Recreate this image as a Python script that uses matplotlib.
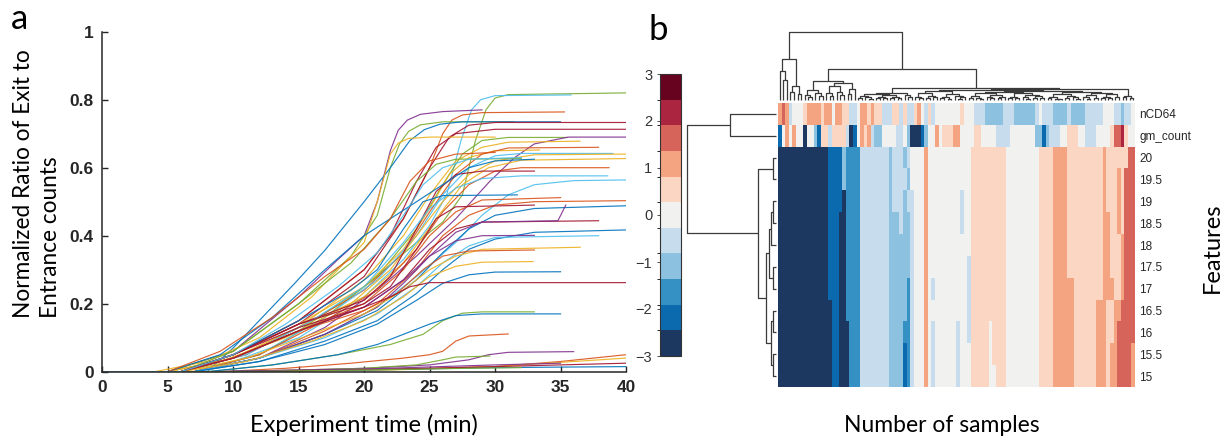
import numpy as np
import matplotlib
matplotlib.use("Agg")
import matplotlib.pyplot as plt
from matplotlib.colors import ListedColormap, BoundaryNorm
from matplotlib.cm import ScalarMappable
from matplotlib.collections import LineCollection
from matplotlib.ticker import FuncFormatter

# ---------------- panel a: exit/entrance ratio traces ----------------
# each trace is a list of (time [min], normalized ratio) knots
traces = [
    [(0, 0), (5, 0), (10, 0.04), (15, 0.12), (20, 0.25), (24, 0.38), (26, 0.44), (27.5, 0.52), (28.5, 0.68), (29.3, 0.77), (30, 0.805), (31, 0.815), (40, 0.82)],
    [(0, 0), (6, 0), (10, 0.03), (15, 0.1), (20, 0.22), (23, 0.33), (25, 0.43), (26.3, 0.52), (27.4, 0.68), (28.2, 0.77), (28.9, 0.8), (30, 0.812), (35.8, 0.814)],
    [(0, 0), (5, 0), (10, 0.06), (15, 0.22), (18, 0.33), (20, 0.4), (21, 0.5), (22, 0.65), (22.6, 0.71), (23.3, 0.74), (24.3, 0.757), (26, 0.765), (29, 0.77)],
    [(0, 0), (6, 0), (10, 0.05), (15, 0.15), (20, 0.3), (23, 0.45), (25, 0.6), (26, 0.7), (26.7, 0.74), (27.5, 0.755), (29, 0.762), (35.3, 0.764)],
    [(0, 0), (5, 0), (10, 0.06), (15, 0.2), (19, 0.34), (21, 0.46), (22, 0.6), (22.7, 0.67), (23.4, 0.707), (24.3, 0.726), (26, 0.735), (31.4, 0.735)],
    [(0, 0), (8, 0), (10, 0.07), (14.7, 0.26), (17, 0.357), (20, 0.5), (22, 0.6), (23.5, 0.68), (24.6, 0.712), (25.8, 0.728), (27.5, 0.735), (35, 0.735)],
    [(0, 0), (6, 0), (10, 0.05), (15, 0.14), (20, 0.28), (23, 0.45), (25, 0.6), (26.5, 0.69), (28, 0.725), (30, 0.733), (40, 0.733)],
    [(0, 0), (6, 0), (10, 0.05), (15, 0.15), (20, 0.3), (22, 0.4), (24, 0.56), (25.5, 0.66), (27, 0.7), (30, 0.713), (40, 0.713)],
    [(0, 0), (4, 0), (8, 0.03), (12, 0.1), (16, 0.22), (20, 0.38), (21, 0.5), (22, 0.64), (22.6, 0.672), (23.4, 0.686), (25, 0.69), (30, 0.69)],
    [(0, 0), (7, 0), (12, 0.05), (17, 0.16), (21, 0.28), (24, 0.42), (26, 0.55), (27.5, 0.64), (29, 0.68), (31, 0.689), (35.5, 0.689)],
    [(0, 0), (7, 0), (12, 0.04), (17, 0.13), (21, 0.24), (24, 0.34), (27, 0.45), (29.6, 0.56), (31.5, 0.63), (33, 0.67), (35.6, 0.69), (40, 0.69)],
    [(0, 0), (5, 0), (10, 0.04), (15, 0.13), (20, 0.27), (23, 0.4), (25, 0.52), (27, 0.62), (29, 0.66), (31, 0.675), (36.5, 0.678)],
    [(0, 0), (6, 0), (10, 0.05), (15, 0.14), (20, 0.25), (23, 0.36), (25, 0.48), (26.5, 0.58), (28, 0.63), (30, 0.65), (33.4, 0.652)],
    [(0, 0), (6, 0), (11, 0.05), (16, 0.15), (20, 0.24), (23, 0.35), (25, 0.47), (27, 0.58), (29, 0.64), (31, 0.658), (37.9, 0.66)],
    [(0, 0), (7, 0), (12, 0.05), (17, 0.16), (21, 0.27), (24, 0.4), (26, 0.52), (28, 0.6), (30, 0.635), (32, 0.642), (39, 0.642)],
    [(0, 0), (5, 0), (9, 0.03), (14, 0.1), (19, 0.2), (22, 0.3), (24, 0.4), (26, 0.5), (28, 0.58), (30, 0.62), (33, 0.638), (40, 0.64)],
    [(0, 0), (6, 0), (10, 0.04), (15, 0.13), (20, 0.22), (23, 0.32), (25.5, 0.45), (27.5, 0.55), (29.5, 0.6), (32, 0.622), (40, 0.627)],
    [(0, 0), (6, 0), (10, 0.06), (15, 0.2), (19, 0.32), (22, 0.45), (24, 0.56), (25.5, 0.61), (27, 0.625), (32, 0.627)],
    [(0, 0), (7, 0), (12, 0.05), (17, 0.15), (21, 0.24), (24, 0.36), (26, 0.47), (28, 0.55), (30, 0.59), (32, 0.6), (38.7, 0.6)],
    [(0, 0), (6, 0), (10, 0.05), (15, 0.14), (20, 0.21), (22, 0.28), (24, 0.42), (25.5, 0.53), (27, 0.58), (29, 0.59), (33, 0.59)],
    [(0, 0), (6, 0), (11, 0.05), (16, 0.15), (20, 0.25), (23, 0.38), (25, 0.48), (27, 0.54), (29, 0.568), (32, 0.576), (38.6, 0.576)],
    [(0, 0), (7, 0), (12, 0.04), (17, 0.11), (21, 0.19), (24, 0.28), (27, 0.38), (29, 0.46), (31, 0.52), (33, 0.55), (36, 0.562), (40, 0.564)],
    [(0, 0), (6, 0), (10, 0.05), (15, 0.15), (19, 0.24), (21, 0.3), (23, 0.42), (24.5, 0.5), (26, 0.518), (31.7, 0.52)],
    [(0, 0), (6, 0), (10, 0.04), (15, 0.12), (20, 0.2), (23, 0.3), (25, 0.4), (27, 0.47), (29, 0.505), (35, 0.512)],
    [(0, 0), (7, 0), (12, 0.04), (17, 0.12), (21, 0.2), (24, 0.3), (26, 0.4), (28, 0.46), (30, 0.49), (33, 0.5), (40, 0.503)],
    [(0, 0), (6, 0), (10, 0.05), (15, 0.14), (20, 0.2), (22, 0.25), (24, 0.36), (25.5, 0.45), (27, 0.485), (33, 0.49)],
    [(0, 0), (7, 0), (12, 0.04), (17, 0.11), (21, 0.18), (24, 0.27), (26, 0.35), (28, 0.42), (30, 0.46), (33, 0.48), (40, 0.488)],
    [(0, 0), (6, 0), (10, 0.05), (15, 0.13), (20, 0.19), (23, 0.27), (25, 0.36), (27, 0.42), (29, 0.44), (37.9, 0.444)],
    [(0, 0), (7, 0), (12, 0.04), (17, 0.11), (21, 0.19), (23, 0.26), (25, 0.34), (27, 0.41), (29, 0.44), (34.8, 0.444), (35.4, 0.49)],
    [(0, 0), (7, 0), (12, 0.03), (17, 0.09), (21, 0.15), (24, 0.23), (26, 0.3), (28, 0.36), (30, 0.39), (33, 0.41), (40, 0.417)],
    [(0, 0), (6, 0), (10, 0.04), (15, 0.12), (20, 0.19), (23, 0.27), (25, 0.34), (27, 0.385), (29, 0.4), (33, 0.401)],
    [(0, 0), (7, 0), (12, 0.04), (17, 0.1), (21, 0.17), (24, 0.25), (26, 0.32), (28, 0.37), (30, 0.395), (37.9, 0.4)],
    [(0, 0), (6, 0), (11, 0.04), (16, 0.11), (20, 0.17), (23, 0.24), (25, 0.3), (27, 0.34), (29, 0.36), (36.5, 0.366)],
    [(0, 0), (6, 0), (10, 0.04), (15, 0.12), (20, 0.18), (22.5, 0.23), (24.5, 0.3), (26, 0.34), (28, 0.355), (33, 0.358)],
    [(0, 0), (6, 0), (11, 0.03), (16, 0.09), (20, 0.15), (23, 0.22), (25, 0.28), (27, 0.31), (29, 0.322), (32.9, 0.324)],
    [(0, 0), (7, 0), (12, 0.03), (17, 0.08), (21, 0.14), (24, 0.21), (26, 0.26), (28, 0.285), (30, 0.293), (35, 0.294)],
    [(0, 0), (6, 0), (10, 0.04), (15, 0.12), (20, 0.19), (22, 0.22), (23.5, 0.25), (25, 0.262), (40, 0.262)],
    [(0, 0), (8, 0), (13, 0.02), (18, 0.05), (22, 0.08), (24.5, 0.11), (26, 0.15), (27.5, 0.172), (29, 0.176), (33, 0.176)],
    [(0, 0), (8, 0), (13, 0.02), (18, 0.05), (21, 0.08), (23, 0.11), (25, 0.14), (27, 0.165), (29, 0.17), (35, 0.17)],
    [(0, 0), (9, 0), (14, 0.01), (19, 0.025), (23, 0.04), (25, 0.05), (26, 0.06), (27, 0.09), (28, 0.105), (31, 0.111)],
    [(0, 0), (9, 0), (15, 0.005), (20, 0.01), (25, 0.02), (28, 0.035), (29.5, 0.05), (31, 0.057), (36, 0.059)],
    [(0, 0), (9, 0), (15, 0.005), (20, 0.01), (24, 0.02), (26, 0.035), (27, 0.043), (29.6, 0.046)],
    [(0, 0), (10, 0), (20, 0.005), (30, 0.015), (35, 0.03), (40, 0.05)],
    [(0, 0), (12, 0), (22, 0.005), (30, 0.015), (36, 0.03), (40, 0.04)],
    [(0, 0), (40, 0)],
    [(0, 0), (8, 0), (20, 0.005), (30, 0.012), (40, 0.015)],
    [(0, 0), (10, 0), (25, 0.01), (35, 0.02), (40, 0.025)],
    [(0, 0), (8, 0), (20, 0.008), (30, 0.02), (35, 0.025)],
    [(0, 0), (10, 0), (20, 0.005), (28, 0.01), (32, 0.012)],
    [(0, 0), (5, 0), (9, 0.05), (13, 0.16), (17, 0.3), (20, 0.4), (22, 0.45), (24, 0.5), (26, 0.55), (28, 0.6), (30, 0.62), (33, 0.625)],
    [(0, 0), (5, 0), (9, 0.06), (13, 0.16), (17, 0.28), (20, 0.36), (22, 0.45), (23.5, 0.56), (25, 0.62), (27, 0.64), (30, 0.645)],
    [(0, 0), (6, 0), (10, 0.05), (14, 0.14), (18, 0.25), (21, 0.35), (23, 0.46), (24.5, 0.55), (26, 0.6), (28, 0.625), (32, 0.63)],
]
trace_colors = "GCPOGBRRYGPYYOCYYGORCCBOORBRPBPCYOYBRGBOPGOYCBRPGBOC"

# MATLAB default line colour order
palette = {"B": "#0072BD", "O": "#D95319", "Y": "#EDB120", "P": "#7E2F8E",
           "G": "#77AC30", "C": "#4DBEEE", "R": "#A2142F"}

time_ticks = [0, 5, 10, 15, 20, 25, 30, 35, 40]
ratio_ticks = [0, 0.2, 0.4, 0.6, 0.8, 1]

# ---------------- panel b: clustered heatmap ----------------
row_labels = ["nCD64", "gm_count", "20", "19.5", "19", "18.5", "18", "17.5",
              "17", "16.5", "16", "15.5", "15"]

# colour level per sample (0 -> -3 ... 10 -> +3), run-length coded as "level*count"
heat_rows = [
    "7 8 7 4 5*3 6 7*4 6 7*2 5 7*2 6*2 4*2 5 7*2 6 7 6*2 4*3 6*2 4 6 4*2 6 7 5 4 6 4 5*7 6 5*3 4*3 3*5 4*3 3*6 4 5 4*3 3*4 4 3*4 4*5 5*3 4*2 3 4*2 5",
    "1 5 7 5 7 5*2 0 5*2 3 1 6*2 4 6*4 4 0 1 5 7 6 7 4 3*2 5*4 4*2 5 3 0*3 1 3 5*2 7 5 6*3 7*2 5*4 6*2 5*4 4*4 5*7 3*2 1 3 4*3 5*2 6*3 5*2 4*3 5*4 6 8*2 9 6 5*2",
    "0*14 1*4 3 2*4 4*8 3 4*3 3 4 5 5*3 7 5*12 6*10 5*9 6*4 7*4 6*10 7 6*6 8*2",
    "0*14 1*4 3 2*4 4*8 3 4*4 3 5 5*3 7 5*12 6*10 5*9 6*4 7*4 6*10 7 6*3 7 6 8*3",
    "0*14 1*4 0 2*4 4*8 3 4*3 3 4 4 5*3 7 5*9 4 5*2 6*10 5*9 6*4 7*4 6*10 7 6*3 7 6 8*3",
    "0*14 1*3 0*2 2*4 4*8 3*3 4 3*2 4 5*3 7 5*9 4 5*2 6*10 5*9 6*4 7*4 6*10 7*2 6*2 7 6 8*3",
    "0*14 1*3 0*2 2*4 4*8 3*6 4 5*3 7 5*12 6*10 5*9 6*4 7*4 6*10 7*2 6*3 7 8*3",
    "0*14 1*3 0*2 2*4 4*8 3*6 4 5*3 7 5*11 4 6*10 5*9 6*4 7*4 6*10 7*2 6*3 7 8*3",
    "0*14 1*3 0*2 2*4 4*8 3*5 2 4 5*3 7 5 4 5*9 4 6*10 5*9 6*4 7*6 6*8 7*3 6*2 7 8*3",
    "0*15 1*2 0*2 2*4 4*8 3*5 2 4 5*3 7 5*11 4 6*10 5*9 6*4 7*6 6*6 7*3 6*2 7*2 8*4",
    "0*15 1*2 0*3 2*3 4*8 3*4 2*2 4 5*3 7 5 4 5*6 4 5*2 4 6*5 5 6*4 5*9 6*4 7*6 6*6 7*3 6*2 7 8*5",
    "0*15 1*2 0*3 2*3 4*8 3*4 1 2 4 5*3 7 5 4 5*6 4 5*3 6*5 5 6*4 5*9 6*4 7*6 6*6 7*3 6 7*2 8*4 7",
    "0*15 1*2 0*3 2*3 4*8 3*4 1 2 4 5*3 7 5 4 5*6 4 5*3 6*5 5*2 6*3 5*9 6*4 7*6 6*6 7*3 6 7*2 8*4 7",
]

level_colors = ["#1c3760", "#0b69ad", "#3590c3", "#8cc1e0", "#c7dcec", "#f1f1f0",
                "#fbd6c3", "#f5a482", "#d6645a", "#ab2440", "#67021f"]
cbar_ticks = [-3, -2, -1, 0, 1, 2, 3]

# sample dendrogram: node = [height, left, right], leaf = 0
L = [0.60, [0.42, 0, [0.30, 0, 0]], [0.20, [0.12, 0, 0], [0.09, 0, 0]]]
R1a = [0.15, [0.08, 0, [0.05, 0, 0]], [0.10, 0, [0.06, 0, 0]]]
R1b = [0.25, [0.20, [0.10, 0, [0.06, 0, 0]], [0.12, 0, [0.07, 0, 0]]], [0.16, [0.09, 0, 0], 0]]
A1 = [0.095, [0.06, [0.035, 0, 0], [0.04, 0, [0.02, 0, 0]]],
      [0.07, [0.045, [0.03, 0, 0], [0.025, 0, 0]], [0.05, [0.03, 0, 0], [0.035, 0, 0]]]]
A2 = [0.08, 0, [0.05, 0, 0]]
B1a = [0.13, [0.10, [0.05, 0, [0.03, 0, 0]], [0.06, [0.035, 0, 0], [0.04, 0, 0]]],
       [0.09, [0.05, [0.03, 0, 0], [0.02, 0, 0]], [0.06, 0, [0.04, [0.02, 0, 0], 0]]]]
X1 = [0.10, [0.06, [0.03, 0, 0], [0.035, 0, [0.02, 0, 0]]], [0.07, [0.04, 0, [0.025, 0, 0]], [0.045, [0.03, 0, 0], 0]]]
X2 = [0.11, [0.05, [0.025, 0, 0], [0.03, 0, 0]], [0.08, [0.04, 0, [0.02, 0, 0]], [0.06, [0.035, 0, 0], [0.03, 0, 0]]]]
Y1 = [0.09, [0.05, [0.03, 0, 0], [0.02, 0, [0.01, 0, 0]]], [0.06, [0.035, 0, 0], [0.04, 0, [0.02, 0, 0]]]]
Y2 = [0.10, [0.07, [0.04, 0, [0.02, 0, 0]], [0.03, 0, 0]], [0.085, [0.05, [0.03, 0, 0], [0.025, 0, 0]], [0.045, 0, 0]]]
B2 = [0.06, [0.04, 0, 0], [0.03, 0, 0]]
sample_tree = [1.0, L, [0.46, [0.28, R1a, R1b],
                        [0.17, [0.11, A1, A2], [0.16, [0.145, B1a, [0.135, [0.12, X1, X2], [0.125, Y1, Y2]]], B2]]]]

# feature dendrogram (same leaf order as row_labels)
row_tree = [89, [46, 0, 0], [18, [3, 0, 0], [10, [7, [5, [3, 0, 0], 0], [3, 0, 0]], [5, [3, 0, 0], [3, 0, 0]]]]]


def decode(code):
    out = []
    for tok in code.split():
        lvl, _, n = tok.partition("*")
        out += [int(lvl)] * int(n or 1)
    return out


def dendro_segments(tree):
    segs = []
    count = [0]

    def walk(node):
        if node == 0:
            pos = count[0]
            count[0] += 1
            return pos, 0.0
        h, left, right = node
        xl, hl = walk(left)
        xr, hr = walk(right)
        segs.append([(xl, hl), (xl, h), (xr, h), (xr, hr)])
        return (xl + xr) / 2, h

    walk(tree)
    return segs, count[0]


ink = "#262626"
W, H = 1223, 438
fig = plt.figure(figsize=(W / 100, H / 100), dpi=100)


def rect(x0, y0, x1, y1):
    return [x0 / W, 1 - y1 / H, (x1 - x0) / W, (y1 - y0) / H]


# ---- panel a
ax = fig.add_axes(rect(102.3, 31.7, 626, 371.7))
for pts, c in zip(traces, trace_colors):
    t, v = zip(*pts)
    ax.plot(t, v, color=palette[c], lw=0.85, alpha=0.9, solid_joinstyle="round")
ax.set_xlim(0, 40)
ax.set_ylim(0, 1)
ax.set_xticks(time_ticks)
ax.set_yticks(ratio_ticks)
ax.yaxis.set_major_formatter(FuncFormatter(lambda v, _: "%g" % v))
for s in ["top", "right"]:
    ax.spines[s].set_visible(False)
for s in ["left", "bottom"]:
    ax.spines[s].set_color(ink)
    ax.spines[s].set_linewidth(1.1)
ax.tick_params(direction="in", length=4, width=1, color=ink, labelcolor=ink, pad=6)
for lab in ax.get_xticklabels() + ax.get_yticklabels():
    lab.set_fontfamily("Liberation Sans")
    lab.set_fontweight("bold")
    lab.set_fontsize(12.5)

label_font = dict(family="Lato", color="black")
fig.text(364 / W, 1 - 425 / H, "Experiment time (min)", ha="center", va="center", fontsize=17, **label_font)
fig.text(37 / W, 1 - 318 / H, "Normalized Ratio of Exit to\nEntrance counts", rotation=90,
         ha="center", va="bottom", multialignment="left", fontsize=16.3, linespacing=1.4, **label_font)
fig.text(20 / W, 1 - 19 / H, "a", ha="center", va="center", fontsize=25, **label_font)
fig.text(658 / W, 1 - 30 / H, "b", ha="center", va="center", fontsize=25, **label_font)

# ---- panel b heatmap
grid = np.array([decode(r) for r in heat_rows])
cmap = ListedColormap(level_colors)
n_rows, n_cols = grid.shape

hax = fig.add_axes(rect(778, 103, 1135, 387))
hax.imshow(grid, cmap=cmap, vmin=-0.5, vmax=len(level_colors) - 0.5, aspect="auto", interpolation="nearest")
hax.set_xticks([])
hax.set_yticks(range(n_rows))
hax.set_yticklabels(row_labels, fontsize=8.5, color=ink, family="Liberation Sans")
hax.yaxis.tick_right()
hax.tick_params(axis="y", length=0, pad=3)
for s in hax.spines.values():
    s.set_visible(False)

# sample dendrogram on top
segs, n_leaves = dendro_segments(sample_tree)
tax = fig.add_axes(rect(778, 32, 1135, 100))
tax.add_collection(LineCollection(segs, colors="#3a3a3a", linewidths=0.9, clip_on=False))
tax.set_xlim(-0.5, n_cols - 0.5)
tax.set_ylim(0, 1.0)
tax.axis("off")

# feature dendrogram on the left
rsegs, _ = dendro_segments(row_tree)
rsegs = [[(h, p) for p, h in s] for s in rsegs]
lax = fig.add_axes(rect(687, 103, 776, 387))
lax.add_collection(LineCollection(rsegs, colors="#3a3a3a", linewidths=0.9, clip_on=False))
lax.set_xlim(89, 0)
lax.set_ylim(n_rows - 0.5, -0.5)
lax.axis("off")

# colour bar
cax = fig.add_axes(rect(660, 74, 681, 356))
bounds = np.linspace(-3, 3, len(level_colors) + 1)
cb = fig.colorbar(ScalarMappable(norm=BoundaryNorm(bounds, len(level_colors)), cmap=cmap),
                  cax=cax, ticks=cbar_ticks)
cb.outline.set_linewidth(0.8)
cb.outline.set_edgecolor("#333333")
cax.yaxis.set_ticks_position("left")
cax.yaxis.set_label_position("left")
cax.tick_params(length=2.5, width=0.6, color="#333333", labelcolor="#333333", labelsize=10.5, pad=3)
for lab in cax.get_yticklabels():
    lab.set_fontfamily("Liberation Sans")

fig.text(942 / W, 1 - 425 / H, "Number of samples", ha="center", va="center", fontsize=16.5, **label_font)
fig.text(1212 / W, 1 - 248 / H, "Features", rotation=90, ha="center", va="center", fontsize=17, **label_font)

fig.savefig("out.png", dpi=100)
